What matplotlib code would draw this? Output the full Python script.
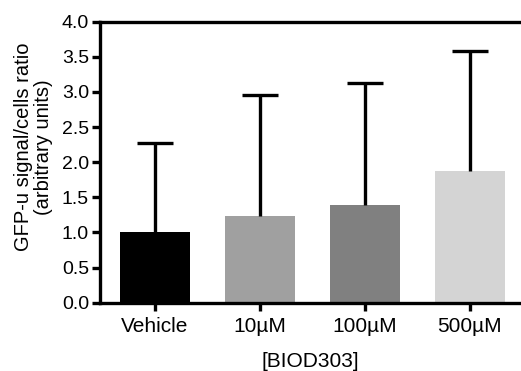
import matplotlib
matplotlib.use("Agg")
import matplotlib.pyplot as plt
import numpy as np

plt.rcParams['font.family'] = ['Liberation Sans', 'DejaVu Sans']

categories = ["Vehicle", "10µM", "100µM", "500µM"]
means = [1.0, 1.24, 1.39, 1.88]
err_upper = [1.27, 1.72, 1.74, 1.70]
colors = ["#000000", "#a0a0a0", "#808080", "#d4d4d4"]

fig = plt.figure(figsize=(5.21, 3.71), dpi=100)
ax = fig.add_axes([100/521, 1 - 302.7/371, 1 - 100/521, (302.7 - 21.7)/371])

x = np.arange(len(categories))
ax.bar(x, means, width=0.667, color=colors, zorder=2)
_, caps, _ = ax.errorbar(x, means, yerr=[np.zeros(len(means)), err_upper], fmt='none',
                         ecolor='black', elinewidth=2.4, capsize=13, capthick=2.4, zorder=3)
caps[0].set_visible(False)

ax.set_xlim(-0.524, 3.49)
ax.set_ylim(0, 4.0)
ax.set_yticks(np.arange(0, 4.01, 0.5))
ax.set_yticklabels([f"{v:.1f}" for v in np.arange(0, 4.01, 0.5)])
ax.set_xticks(x)
ax.set_xticklabels(categories)

for s in ['left', 'bottom', 'top']:
    ax.spines[s].set_linewidth(2.4)
ax.spines['right'].set_visible(False)
ax.tick_params(axis='both', width=2.4, length=6, direction='out')
ax.tick_params(axis='y', labelsize=14, pad=2)
ax.tick_params(axis='x', labelsize=15, pad=4)

ax.set_ylabel("GFP-u signal/cells ratio\n(arbitrary units)", fontsize=14.5, linespacing=1.08)
ax.yaxis.set_label_coords(-0.112, 0.554)
ax.set_xlabel("[BIOD303]", fontsize=15, labelpad=12)

fig.savefig("out.png", dpi=100)
